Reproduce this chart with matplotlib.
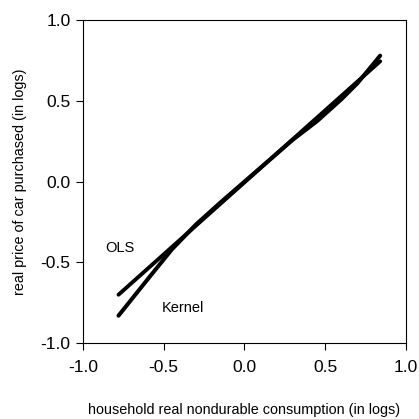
import numpy as np
import matplotlib
matplotlib.use('Agg')
from matplotlib import pyplot as plt

plt.rcParams['font.family'] = ['Liberation Sans', 'DejaVu Sans']

# OLS fit (straight line) and kernel regression
ols_x = [-0.78, 0.84]
ols_y = [-0.70, 0.745]

kernel_x = [-0.78, -0.60, -0.45, -0.30, -0.15, 0.0, 0.15, 0.30, 0.45, 0.60, 0.70, 0.84]
kernel_y = [-0.83, -0.605, -0.42, -0.265, -0.13, 0.0, 0.13, 0.26, 0.375, 0.51, 0.61, 0.78]

ticks = [-1.0, -0.5, 0.0, 0.5, 1.0]

fig = plt.figure(figsize=(4.19, 4.19), dpi=100)
ax = fig.add_axes([0.198, 0.181, 0.771, 0.771])

ax.plot(ols_x, ols_y, color='black', lw=2.8, solid_capstyle='round')
ax.plot(kernel_x, kernel_y, color='black', lw=2.9, solid_capstyle='round')

ax.text(-0.77, -0.41, 'OLS', fontsize=10.5, ha='center', va='center')
ax.text(-0.38, -0.78, 'Kernel', fontsize=10.5, ha='center', va='center')

ax.set_xlim(-1, 1)
ax.set_ylim(-1, 1)
ax.set_xticks(ticks)
ax.set_yticks(ticks)
ax.set_xticklabels([f"{t:.1f}" for t in ticks])
ax.set_yticklabels([f"{t:.1f}" for t in ticks])
ax.tick_params(direction='out', length=5, width=0.8, labelsize=12.5, pad=4)
ax.tick_params(axis='x', pad=7)
for s in ax.spines.values():
    s.set_linewidth(0.8)

ax.set_xlabel('household real nondurable consumption (in logs)', fontsize=10.4, labelpad=20)
ax.set_ylabel('real price of car purchased (in logs)', fontsize=10.4, labelpad=10)

fig.savefig('out.png', dpi=100)
